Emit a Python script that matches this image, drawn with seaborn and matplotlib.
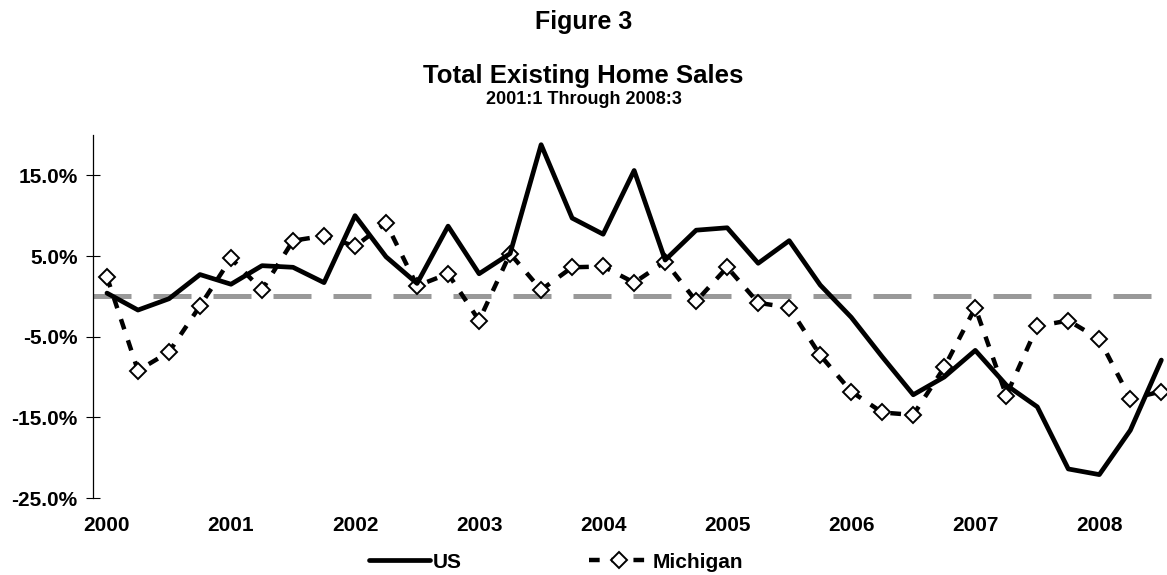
import matplotlib
matplotlib.use("Agg")
import matplotlib.pyplot as plt
from matplotlib.lines import Line2D
import seaborn as sns
import pandas as pd

years = ["2000", "2001", "2002", "2003", "2004", "2005", "2006", "2007", "2008"]

us = [0.4, -1.7, -0.3, 2.7, 1.5, 3.8, 3.6, 1.7, 10.0, 4.9,
      1.6, 8.7, 2.8, 5.3, 18.8, 9.7, 7.7, 15.6, 4.5, 8.2,
      8.5, 4.1, 6.9, 1.4, -2.6, -7.5, -12.2, -10.0, -6.7, -11.0,
      -13.7, -21.4, -22.1, -16.6, -7.9]

michigan = [2.4, -9.2, -6.9, -1.2, 4.7, 0.8, 6.9, 7.5, 6.2, 9.1,
            1.3, 2.8, -3.0, 5.3, 0.8, 3.6, 3.7, 1.7, 4.3, -0.6,
            3.6, -0.8, -1.4, -7.3, -11.8, -14.4, -14.7, -8.8, -1.4, -12.3,
            -3.7, -3.0, -5.3, -12.7, -11.8]

y_ticks = [-25, -15, -5, 5, 15]
y_tick_labels = ["-25.0%", "-15.0%", "-5.0%", "5.0%", "15.0%"]

df = pd.DataFrame({"q": range(len(us)), "US": us, "Michigan": michigan})

sns.set_style("white")
plt.rcParams["font.family"] = ["Liberation Sans", "DejaVu Sans"]
plt.rcParams["font.weight"] = "bold"
plt.rcParams["text.color"] = "black"
plt.rcParams["xtick.color"] = "black"
plt.rcParams["ytick.color"] = "black"
plt.rcParams["axes.labelcolor"] = "black"

fig = plt.figure(figsize=(11.67, 5.75), dpi=100)
ax = fig.add_axes([93 / 1167, 1 - 498 / 575, (1166 - 93) / 1167, (498 - 135) / 575])

ax.axhline(0, color="#999999", lw=3.6, dashes=(7.6, 4.4), zorder=1)

sns.lineplot(data=df, x="q", y="US", ax=ax, color="black", lw=3.4,
             zorder=3, legend=False)
sns.lineplot(data=df, x="q", y="Michigan", ax=ax, color="black", lw=3.2,
             dashes=False, linestyle=(0, (2.4, 2.6)), marker="D", markersize=7.8,
             markerfacecolor="white", markeredgecolor="black", markeredgewidth=1.4,
             zorder=2, legend=False)

ax.set_xlim(-0.45, 34.15)
ax.set_ylim(-25, 20)
ax.set_yticks(y_ticks)
ax.set_yticklabels(y_tick_labels, fontsize=15, fontweight="bold")
ax.set_xticks(range(0, len(us), 4))
ax.set_xticklabels(years, fontsize=15, fontweight="bold")
ax.set_xlabel("")
ax.set_ylabel("")

for s in ["top", "right", "bottom"]:
    ax.spines[s].set_visible(False)
ax.spines["left"].set_color("black")
ax.spines["left"].set_linewidth(0.9)
ax.tick_params(axis="y", direction="inout", length=10, width=0.8, color="black",
               pad=6, left=True)
ax.tick_params(axis="x", length=0, pad=13)

fig.text(0.5, 1 - 29 / 575, "Figure 3", ha="center", va="baseline",
         fontsize=18, fontweight="bold")
fig.text(0.5, 1 - 83 / 575, "Total Existing Home Sales", ha="center", va="baseline",
         fontsize=18.5, fontweight="bold")
fig.text(0.5, 1 - 104 / 575, "2001:1 Through 2008:3", ha="center", va="baseline",
         fontsize=13, fontweight="bold")

handles = [
    Line2D([], [], color="black", lw=3.4),
    Line2D([], [], color="black", lw=3.2, linestyle=(0, (2.4, 2.6)), marker="D",
           markersize=7.8, markerfacecolor="white", markeredgecolor="black",
           markeredgewidth=1.4),
]
fig.legend(handles, ["US", "Michigan"], loc="center", bbox_to_anchor=(556 / 1167, 1 - 562 / 575),
           ncol=2, frameon=False, handlelength=2.9, handletextpad=0.15,
           columnspacing=6.1, numpoints=1, prop={"weight": "bold", "size": 15})

fig.savefig("out.png", dpi=100)
